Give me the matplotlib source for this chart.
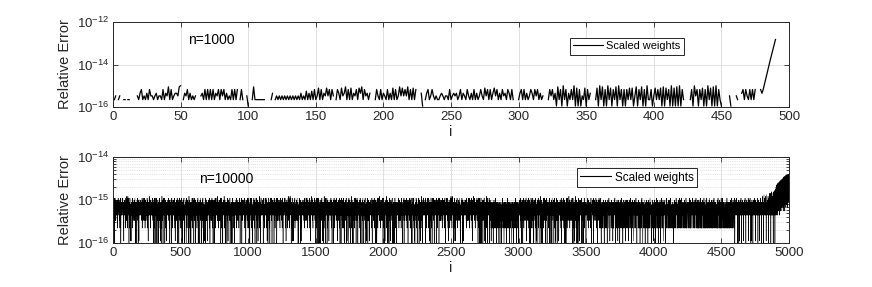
import numpy as np
import matplotlib
matplotlib.use('Agg')
import matplotlib.pyplot as plt
from matplotlib.ticker import LogLocator, NullLocator, NullFormatter, FixedLocator

# unit roundoff multiple used to encode error levels
u = 1.11e-16

# n=1000 panel: error level codes (multiples of u), '0' = exact (not drawn on log axis)
top_codes = """
2302300220 2200000324 6232426332 3423326243 8262344389
0243624232 3000342626 2626243626 3624232626 2602620031
0028222222 2200002402 3232323232 3232323242 3252425262
3726243736 2630264273 4826272436 2748263424 0002632624
3262427262 3837363826 2726000410 2462363232 2343233262
3434236243 2632426242 3632736262 4736242634 2642620002
4626242364 2636242300 0263624182 6192614262 9171613271
6240002719 2816192716 2819261616 2727138162 8161922613
7262718172 6191718191 6200002619 3616271619 2718191621
0000031000 3200462632 6262600064
"""
top_tail = [7e-16, 1.3e-15, 2.4e-15, 4.5e-15, 8e-15, 1.5e-14, 2.7e-14, 4.8e-14, 8.5e-14, 1.5e-13]

# n=10000 panel: error level codes (base-36 multiples of u), '0' = below 1e-16
bottom_codes = """
5746857a46 0583a74639 3857465947 5837294a58 7569475836 2946a83057 8465746a57 5a94837261 8574695746 2847a6395b
6a3847295b 6a47586047 8362a94715 4751865746 4938a25736 7584693746 9a37485206 0576485974 a483605972 4186574695
4758694857 8374a29536 4763857a46 3958a72463 5968475846 3a85729461 8657469b57 4a86395728 7465847963 3a59483710
7394a62850 5a47586046 9a58306473 6957406857 5938a47261 8574601857 2b49385760 4a57486574 4a01836295 4758371648
5847695847 4a38572960 4765847694 0837a49526 3847695847 4937a58261 7584653947 5839a27406 6958470564 7a48362957
5837a29461 4058746958 3849a52706 1647584659 3058a49276 5964758047 5b38274960 8574601758 4839a27563 7a58465094
3847a36592 0574685746 2748593a60 6805746584 3069483a75 4758064759 4839a27360 4685137465 3a58047395 3857461584
6475869475 3728a60594 5846375968 3a58274960 9574685046 0594a83726 5a84756846 3b58394726 6584736957 3859a40273
4a92736805 6175846958 5b38264970 5847065847 8206a53947 1758496574 5839a02736 4685076485 0374a95826 5846758047
7564857469 3a47285936 7584635748 2846a95730 4658475964 3a07485936 4695847568 3a58294736 6058475968 7384a59263
2958a43706 6085746a58 3958a27461 5706584756 3a69284750 0657485a46 3a80574926 5816475847 3b46295830 7584a65746
4675846957 0a39584726 4765a84756 4a72839561 4758603748 3a94827560 5846a75846 3a58402796 4695847564 0a58374926
5746857a46 0583a74639 3857465947 5837294a58 7569475836 2946a83057 8465746a57 5a94837261 8574695746 2847a6395b
6a3847295b 6a47586047 8362a94715 4751865746 4938a25736 7584693746 9a37485206 0576485974 a483605972 4186574695
4758694857 8374a29536 4763857a46 3958a72463 5968475846 3a85729461 8657469b57 4a86395728 7465847963 3a59483710
7394a62850 5a47586046 9a58306473 6957406857 5938a47261 8574601857 2b49385760 4a57486574 4a01836295 4758371648
5847695847 4a38572960 4765847694 0837a49526 3847695847 4937a58261 7584653947 5839a27406 6958470564 7a48362957
5837a29461 4058746958 3849a52706 1647584659 3058a49276 5964758047 5b38274960 8574601758 4839a27563 7a58465094
3847a36592 0574685746 2748593a60 6805746584 3069483a75 4758064759 4839a27360 4685137465 3a58047395 3857461584
6475869475 3728a60594 5846375968 3a58274960 9574685046 0594a83726 5a84756846 3b58394726 6584736957 3859a40273
4a92736805 6175846958 5b38264970 5847065847 8206a53947 1758496574 5839a02736 4685076485 0374a95826 5846758047
7564857469 3a47285936 7584635748 2846a95730 4658475964 3a07485936 4695847568 3a58294736 6058475968 7384a59263
2958a43706 6085746a58 3958a27461 5706584756 3a69284750 0657485a46 3a80574926 5816475847 3b46295830 7584a65746
4675846957 0a39584726 4765a84756 4a72839561 4758603748 3a94827560 5846a75846 3a58402796 4695847564 0a58374926
5746857a46 0583a74639 3857465947 5837294a58 7569475836 2946a83057 8465746a57 5a94837261 8574695746 2847a6395b
6a3847295b 6a47586047 8362a94715 4751865746 4938a25736 7584693746 9a37485206 0576485974 a483605972 4186574695
4758694857 8374a29536 4763857a46 3958a72463 5968475846 3a85729461 8657469b57 4a86395728 7465847963 3a59483710
7394a62850 5a47586046 9a58306473 6957406857 5938a47261 8574601857 2b49385760 4a57486574 4a01836295 4758371648
4627385624 7038562947 3562847a36 2847036285 7436285720 4638257463 8025746382 5740362857 4a36285746 2058473628
5736284750 3628574a62 8473625847 0362857463 2584736205 8473628574 0263857462 8574362a58 4736208574 6382574630
5847695847 4a38572960 4765847694 0837a49526 3847695847 4937a58261 7584653947 5839a27406 6958470564 7a48362957
5837a29461 4058746958 3849a52706 1647584659 3058a49276 5964758047 5b38274960 8574601758 4839a27563 7a58465094
3847a36592 0574685746 2748593a60 6805746584 3069483a75 4758064759 4839a27360 4685137465 3a58047395 3857461584
6475869475 3728a60594 5846375968 3a58274960 9574685046 0594a83726 5a84756846 3b58394726 6584736957 3859a40273
4a92736805 6175846958 5b38264970 5847065847 8206a53947 1758496574 5839a02736 4685076485 0374a95826 5846758047
7564857469 3a47285936 7584635748 2846a95730 4658475964 3a07485936 4695847568 3a58294736 6058475968 7384a59263
5726857a42 0572685746 2857425947 6805726584 7529475826 4758024759 8425746a57 4685127465 8572695742 2857461582
6425869475 6a42586047 5826375928 4751825746 9572685046 7582693742 5a84752846 0576425974 6582736952 4186572695
4728694852 6175826958 4762857a42 5847025847 5928475842 1758496572 8652469a57 4682076485 7462847962 5842758047
7562857429 5a47582046 7582635742 6952406857 4652475962 8574601852 4692847562 4a52486574 6052475962 4758271642
5827695842 6085726a58 4762847692 5702584756 2847695842 0652485a46 7582652947 5812475847 6952470562 7582a65746
4672846952 4258726958 4762a84752 2647582652 4752602748 5962758247 5842a75846 8572622758 4692847562 7a58462592
6572a85742 2857462584 7652475962 4857425a82 7562485742 2857462582 7542a58472 6928475842 5742695a47 5862574952
5842569847 6a25847562 9582762847 2592756842 6952a47562 8257425847 5962475842 a272584752 4952476582 7a56842625
7462847592 4a52486258 4752948572 4825742958 4762a84752 2847562584 7652476292 5742a56847 6258472962 7582762a48
4752694a52 4862574852 6842564825 7462584752 a472864257 4862584752 4285742958 47a5682762 5842596842 5842a75802
6857469584 7a56847605 8475968405 6184756948 5746a58470 5748695847 5681574695 8475a68475 0685746958 4756847a61
5746958475 6a47586041 5874695847 5608574695 8475a64857 4169584756 4875a68470 5847695847 5618475a96 4758604758
5847b95746 0857c65a84 7564b95746 1758c65847 6957b86047 5a4c7d9b47 58d610c475 6e47b94658 4d068e7b69 5f47a0c847
6g5i7h4k8j 5l7i6m4j8k 7h5n6k8m4o 6l8p5n7k9q 5o8m6r7p8n 7s6q9t5r8u 6v8s7u9w5t 8x7v9u6y8w 9v7x8z6w9y a8x9w8z9yz
"""

legend_label = "Scaled weights"
top_note = "n=1000"
bottom_note = "n=10000"
top_xticks = list(range(0, 501, 50))
bottom_xticks = list(range(0, 5001, 500))


def parse(s):
    return "".join(s.split())


top_str = parse(top_codes)
top_vals = np.array([int(c, 36) * u if c != '0' else np.nan for c in top_str] + top_tail)
top_i = np.arange(1, len(top_vals) + 1)

bot_str = parse(bottom_codes)
bot_vals = np.array([int(c, 36) * u if c != '0' else 0.5 * u for c in bot_str])
bot_i = np.arange(1, len(bot_vals) + 1)

plt.rcParams['font.family'] = ['Liberation Sans', 'DejaVu Sans']
plt.rcParams['mathtext.fontset'] = 'custom'
plt.rcParams['mathtext.rm'] = 'Liberation Sans'
plt.rcParams['mathtext.it'] = 'Liberation Sans:italic'

fig = plt.figure(figsize=(8.72, 2.87), dpi=100)
W, H = 872, 287
ax1 = fig.add_axes([113 / W, 1 - 107 / H, 676 / W, 85 / H])
ax2 = fig.add_axes([113 / W, 1 - 243 / H, 676 / W, 86 / H])

axc = '#262626'
gridc = '#dcdcdc'

for ax in (ax1, ax2):
    ax.set_yscale('log')
    for sp in ax.spines.values():
        sp.set_color(axc)
        sp.set_linewidth(0.7)
    ax.tick_params(which='both', direction='in', top=True, right=True, colors=axc,
                   labelsize=9.5, width=0.6, pad=3)
    ax.tick_params(which='major', length=3.5)
    ax.tick_params(which='minor', length=2)
    ax.set_axisbelow(True)

ax1.plot(top_i, top_vals, color='black', lw=0.9, label=legend_label)
ax1.set_xlim(0, 500)
ax1.set_ylim(1e-16, 1e-12)
ax1.xaxis.set_major_locator(FixedLocator(top_xticks))
ax1.yaxis.set_major_locator(FixedLocator([1e-16, 1e-14, 1e-12]))
ax1.yaxis.set_minor_locator(NullLocator())
ax1.grid(True, which='major', color=gridc, lw=0.6)

ax2.plot(bot_i, bot_vals, color='black', lw=0.35, label=legend_label)
ax2.set_xlim(0, 5000)
ax2.set_ylim(1e-16, 1e-14)
ax2.xaxis.set_major_locator(FixedLocator(bottom_xticks))
ax2.yaxis.set_major_locator(FixedLocator([1e-16, 1e-15, 1e-14]))
ax2.yaxis.set_minor_locator(LogLocator(base=10, subs=np.arange(2, 10)))
ax2.yaxis.set_minor_formatter(NullFormatter())
ax2.grid(True, which='major', color=gridc, lw=0.6)
ax2.grid(True, which='minor', axis='y', color='#cfcfcf', lw=0.5, ls=':')

for ax in (ax1, ax2):
    ax.set_xlabel('i', fontsize=10.5, color=axc, labelpad=1)
    ax.set_ylabel('Relative Error', fontsize=10.5, color=axc)
    ax.yaxis.set_label_coords((72 - 113) / 676, 0.5)

ax1.text(0.111, 0.788, top_note, transform=ax1.transAxes, fontsize=10, va='center', ha='left')
ax2.text(0.127, 0.744, bottom_note, transform=ax2.transAxes, fontsize=10, va='center', ha='left')

for ax, anchor, fs, hl in ((ax1, (0.676, 0.812), 7.9, 2.7), (ax2, (0.686, 0.872), 8.5, 2.6)):
    leg = ax.legend(loc='upper left', bbox_to_anchor=anchor, borderaxespad=0,
                    fontsize=fs, fancybox=False, framealpha=1, edgecolor=axc,
                    handlelength=hl, handletextpad=0.3, borderpad=0.3)
    leg.get_frame().set_linewidth(0.7)
    for h in leg.get_lines():
        h.set_linewidth(0.8)

fig.savefig('out.png', dpi=100)
